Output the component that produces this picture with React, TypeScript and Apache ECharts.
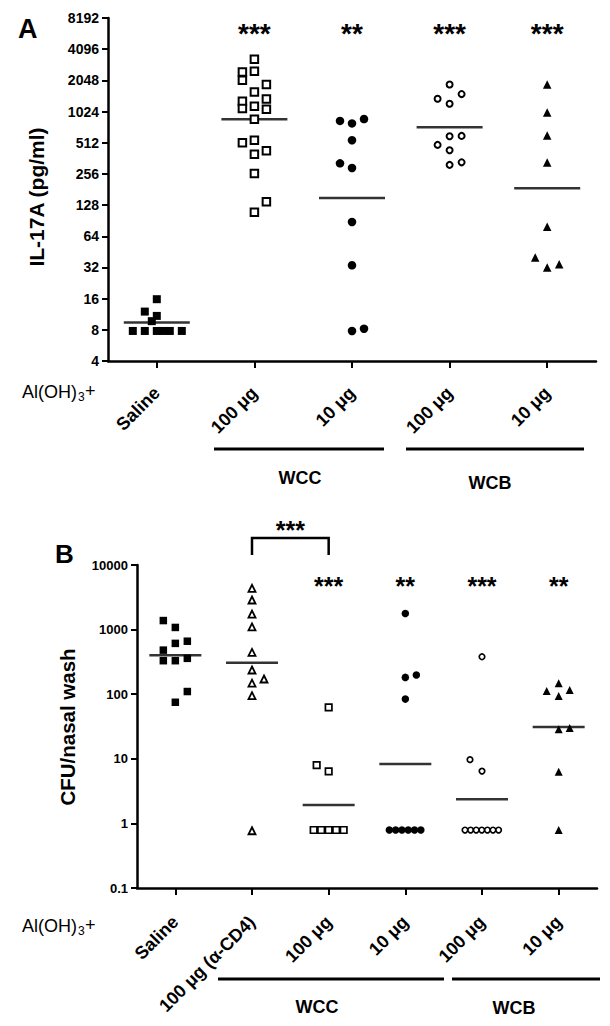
import React, { useEffect, useRef } from 'react';
import * as echarts from 'echarts';

const FONT = '"Liberation Sans", Arial, Helvetica, sans-serif';

// ---------- Panel A : IL-17A (pg/ml), log2 axis ----------
const catsA = ['Saline', '100 μg', '10 μg', '100 μg', '10 μg'];
const yTicksA = [4, 8, 16, 32, 64, 128, 256, 512, 1024, 2048, 4096, 8192];
// [value, horizontal jitter in px]
const aSaline = [[15.8, 0], [12, -12], [10.9, 0], [9.7, -5], [7.8, -24], [7.8, -12], [7.8, 0], [7.8, 6], [7.8, 13], [7.8, 25]];
const aWcc100 = [[3281, 0], [2472, -12], [2510, 0], [2048, -12], [1870, 12], [1585, 0], [1350, 12], [1290, -12], [1097, -12], [1153, 0], [1080, 12], [861, 0], [512, -12], [541, 0], [397, 0], [428, 12], [259, 0], [138, 12], [109, 0]];
const aWcc10 = [[832, -12], [787, 0], [867, 12], [541, 0], [324, -12], [292, 0], [88, 0], [33.6, 0], [7.8, 0], [8.2, 12]];
const aWcb100 = [[1870, 0], [1360, -12], [1217, 0], [1509, 12], [592, 0], [596, 12], [488, -12], [433, 0], [313, 0], [331, 12]];
const aWcb10 = [[1870, 0], [1003, 0], [601, 0], [329, 0], [79, 0], [40, -12], [32, 0], [34.3, 12]];
const aMeans = [9.4, 861, 150, 724, 186];
const aStars = ['', '***', '**', '***', '***'];
const aStarLevel = 6650;

// ---------- Panel B : CFU/nasal wash, log10 axis ----------
const catsB = ['Saline', '100 μg (α-CD4)', '100 μg', '10 μg', '100 μg', '10 μg'];
const yTicksB = [0.1, 1, 10, 100, 1000, 10000];
const bSaline = [[1380, -12], [1080, 0], [481, -12], [612, 0], [661, 12], [330, -12], [330, 0], [359, 12], [110, 12], [75, 0]];
const bCd4 = [[4360, 0], [2870, 0], [1740, 0], [1100, 0], [443, 0], [237, 0], [172, 12], [148, 0], [95, 0], [0.77, 0]];
const bWcc100 = [[62.6, 0], [7.96, -12], [6.4, 0], [0.79, -15], [0.79, -7.5], [0.79, 0], [0.79, 7.5], [0.79, 15]];
const bWcc10 = [[1780, 0], [198, 11], [182, 0], [84, 0], [0.79, -16], [0.79, -9.7], [0.79, -3.4], [0.79, 2.9], [0.79, 9.2], [0.79, 15.5]];
const bWcb100 = [[380, 0], [9.7, -12], [6.45, 0], [0.79, -17], [0.79, -11.4], [0.79, -5.8], [0.79, -0.2], [0.79, 5.4], [0.79, 11], [0.79, 16.6]];
const bWcb10 = [[148, 0], [112, -12], [116, 11], [93.5, 0], [28.6, 0], [30, 11], [6.3, 0], [0.79, 0]];
const bMeans = [400, 306, 1.92, 8.3, 2.36, 31];
const bStars = ['', '', '***', '**', '***', '**'];
const bStarLevel = 5860;
const bBracket = [1, 2]; // compared groups
const bBracketStars = '***';

const gridA = { left: 108, top: 18, width: 488, height: 343 };
const gridB = { left: 137, top: 565, width: 460, height: 323 };

// hidden value x-axis runs 0..n, group i sits at i + 0.5
function pts(arr: number[][], idx: number, band: number) {
  return arr.map(([v, dx]) => [idx + 0.5 + dx / band, v]);
}

type Mk = { symbol: string; fill: boolean; size: number; bw: number };

function pointSeries(groups: number[][][], marks: Mk[], xi: number, yi: number, band: number) {
  return groups.map((g, i) => {
    const m = marks[i];
    return {
      type: 'scatter',
      xAxisIndex: xi,
      yAxisIndex: yi,
      data: pts(g, i, band),
      symbol: m.symbol,
      symbolSize: m.size,
      z: 3,
      itemStyle: m.fill
        ? { color: '#000', borderWidth: 0, opacity: 1 }
        : { color: '#fff', borderColor: '#000', borderWidth: m.bw, opacity: 1 },
      emphasis: { disabled: true },
    };
  });
}

function meanSeries(means: number[], xi: number, yi: number, w: number) {
  return {
    type: 'scatter',
    xAxisIndex: xi,
    yAxisIndex: yi,
    data: means.map((v, i) => [i + 0.5, v]),
    symbol: 'rect',
    symbolSize: [w, 2.5],
    z: 2,
    itemStyle: { color: '#000' },
    emphasis: { disabled: true },
  };
}

function starSeries(stars: string[], level: number, xi: number, yi: number, fs: number) {
  return {
    type: 'scatter',
    xAxisIndex: xi,
    yAxisIndex: yi,
    data: stars
      .map((s, i) => ({ name: s, value: [i + 0.5, level] }))
      .filter((d) => d.name !== ''),
    symbol: 'circle',
    symbolSize: 1,
    z: 4,
    itemStyle: { color: 'rgba(0,0,0,0)' },
    label: {
      show: true,
      position: 'inside',
      formatter: '{b}',
      color: '#000',
      opacity: 1,
      textBorderWidth: 0,
      fontFamily: FONT,
      fontWeight: 'bold',
      fontSize: fs,
      offset: [0, Math.round(fs * 0.23)],
    },
    emphasis: { disabled: true },
  };
}

function catAxis(grid: number, data: string[], margin: number) {
  return {
    type: 'category',
    gridIndex: grid,
    position: 'bottom',
    data,
    boundaryGap: true,
    axisLine: { show: true, onZero: false, lineStyle: { color: '#000', width: 2.5 } },
    axisTick: { show: true, alignWithLabel: true, length: 7, lineStyle: { color: '#000', width: 2 } },
    axisLabel: {
      interval: 0,
      rotate: 45,
      margin,
      color: '#000',
      fontFamily: FONT,
      fontWeight: 'bold',
      fontSize: 18,
    },
    splitLine: { show: false },
  };
}

function hiddenX(grid: number, n: number) {
  return { type: 'value', gridIndex: grid, position: 'top', min: 0, max: n, show: false, splitLine: { show: false } };
}

function logAxis(grid: number, base: number, ticks: number[], fs: number) {
  return {
    type: 'log',
    logBase: base,
    gridIndex: grid,
    position: 'left',
    min: ticks[0],
    max: ticks[ticks.length - 1],
    interval: 1,
    axisLine: { show: true, lineStyle: { color: '#000', width: 2.5 } },
    axisTick: { show: true, length: 6, lineStyle: { color: '#000', width: 2 } },
    axisLabel: {
      color: '#000',
      fontFamily: FONT,
      fontWeight: 'bold',
      fontSize: fs,
      margin: 9,
      formatter: (v: number) => (v < 1 ? v.toFixed(1) : String(Math.round(v))),
    },
    splitLine: { show: false },
  };
}

function txt(text: string, x: number, y: number, size: number, bold: boolean, align = 'left', rotation = 0) {
  return {
    type: 'text',
    x,
    y,
    rotation,
    silent: true,
    style: {
      text,
      fill: '#000',
      fontFamily: FONT,
      fontSize: size,
      fontWeight: bold ? 'bold' : 'normal',
      align,
      verticalAlign: 'middle',
    },
  };
}

function hline(x1: number, x2: number, y: number, w = 3) {
  return { type: 'line', silent: true, shape: { x1, y1: y, x2, y2: y }, style: { stroke: '#000', lineWidth: w } };
}

function aloh(y: number) {
  return [txt('Al(OH)', 22, y, 18, false), txt('3', 78, y + 5, 12, false), txt('+', 85, y - 1, 18, false)];
}

export default function App() {
  const ref = useRef<HTMLDivElement>(null);
  useEffect(() => {
    if (!ref.current) return;
    const chart = echarts.init(ref.current, undefined, { renderer: 'svg' });
    const bandA = gridA.width / catsA.length;
    const bandB = gridB.width / catsB.length;
    const marksA: Mk[] = [
      { symbol: 'rect', fill: true, size: 8, bw: 0 },
      { symbol: 'rect', fill: false, size: 7.5, bw: 2 },
      { symbol: 'circle', fill: true, size: 8.5, bw: 0 },
      { symbol: 'circle', fill: false, size: 6, bw: 2 },
      { symbol: 'triangle', fill: true, size: 8.5, bw: 0 },
    ];
    const marksB: Mk[] = [
      { symbol: 'rect', fill: true, size: 7.5, bw: 0 },
      { symbol: 'triangle', fill: false, size: 7, bw: 1.8 },
      { symbol: 'rect', fill: false, size: 6.5, bw: 1.7 },
      { symbol: 'circle', fill: true, size: 7.5, bw: 0 },
      { symbol: 'circle', fill: false, size: 5.5, bw: 1.7 },
      { symbol: 'triangle', fill: true, size: 8, bw: 0 },
    ];
    const bx1 = gridB.left + (bBracket[0] + 0.5) * bandB;
    const bx2 = gridB.left + (bBracket[1] + 0.5) * bandB;
    chart.setOption({
      animation: false,
      backgroundColor: '#fff',
      grid: [
        { ...gridA, containLabel: false },
        { ...gridB, containLabel: false },
      ],
      xAxis: [catAxis(0, catsA, 29), hiddenX(0, catsA.length), catAxis(1, catsB, 31), hiddenX(1, catsB.length)],
      yAxis: [logAxis(0, 2, yTicksA, 14), logAxis(1, 10, yTicksB, 13)],
      series: [
        meanSeries(aMeans, 1, 0, 66),
        ...pointSeries([aSaline, aWcc100, aWcc10, aWcb100, aWcb10], marksA, 1, 0, bandA),
        starSeries(aStars, aStarLevel, 1, 0, 28),
        meanSeries(bMeans, 3, 1, 52),
        ...pointSeries([bSaline, bCd4, bWcc100, bWcc10, bWcb100, bWcb10], marksB, 3, 1, bandB),
        starSeries(bStars, bStarLevel, 3, 1, 25),
      ],
      graphic: [
        txt('A', 18, 29, 27, true),
        txt('B', 55, 554, 26, true),
        txt('IL-17A (pg/ml)', 36, 197, 21, true, 'center', Math.PI / 2),
        txt('CFU/nasal wash', 67, 727, 20.5, true, 'center', Math.PI / 2),
        ...aloh(392),
        ...aloh(926),
        hline(214, 384, 449),
        hline(406, 584, 449),
        txt('WCC', 300, 478, 18, true, 'center'),
        txt('WCB', 490, 483, 18, true, 'center'),
        hline(218, 444, 979),
        hline(452, 600, 979),
        txt('WCC', 317, 1007, 18, true, 'center'),
        txt('WCB', 514, 1008, 18, true, 'center'),
        {
          type: 'polyline',
          silent: true,
          shape: { points: [[bx1, 555], [bx1, 538], [bx2, 538], [bx2, 555]] },
          style: { stroke: '#000', lineWidth: 2.5, fill: 'none' },
        },
        txt(bBracketStars, (bx1 + bx2) / 2, 530, 25, true, 'center'),
      ],
    });
    return () => chart.dispose();
  }, []);
  return <div ref={ref} style={{ position: 'absolute', left: 0, top: 0, width: 610, height: 1026, background: '#fff' }} />;
}
